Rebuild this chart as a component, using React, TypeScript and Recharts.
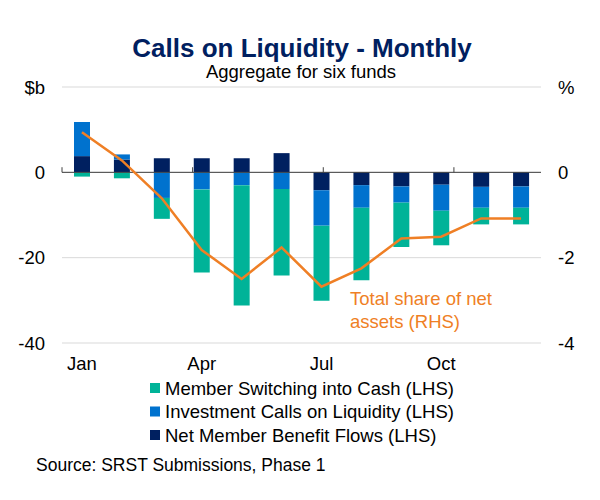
import {
  ComposedChart,
  Bar,
  Line,
  XAxis,
  YAxis,
  CartesianGrid,
  ReferenceLine,
} from 'recharts';

const months = ['Jan', 'Feb', 'Mar', 'Apr', 'May', 'Jun', 'Jul', 'Aug', 'Sep', 'Oct', 'Nov', 'Dec'];
const shownMonths = ['Jan', 'Apr', 'Jul', 'Oct'];

// $b, LHS
const benefitFlows = [3.8, 3.0, 3.3, 3.3, 3.3, 4.5, -4.2, -3.0, -3.3, -2.9, -3.4, -3.3];
const investmentCalls = [8.0, 1.2, -6.0, -4.0, -3.0, -3.9, -8.3, -5.3, -3.8, -6.1, -4.9, -5.0];
const switching = [-1.0, -1.4, -4.9, -19.5, -28.2, -20.3, -17.6, -17.0, -10.4, -8.1, -3.9, -3.9];
// %, RHS
const shareOfAssets = [0.94, 0.28, -0.61, -1.82, -2.5, -1.76, -2.68, -2.25, -1.55, -1.51, -1.08, -1.08];

const leftTicks = [-40, -20, 0, 20];
const rightTicks = [-4, -2, 0, 2];
const quarterMarks = [0, 3, 6, 9, 12];

const TEAL = '#00B398';
const BLUE = '#0072CE';
const NAVY = '#002060';
const ORANGE = '#EF7F25';
const FONT = '"Liberation Sans", Arial, sans-serif';

const legendItems = [
  { name: 'Member Switching into Cash (LHS)', color: TEAL },
  { name: 'Investment Calls on Liquidity (LHS)', color: BLUE },
  { name: 'Net Member Benefit Flows (LHS)', color: NAVY },
];

const data = months.map((m, i) => ({
  month: m,
  benefit: benefitFlows[i],
  invest: investmentCalls[i],
  switching: switching[i],
  share: shareOfAssets[i],
}));

export default function App() {
  const tickStyle = { fontSize: 18.5, fill: '#000', fontFamily: FONT };
  return (
    <div style={{ position: 'relative', width: 600, height: 500, margin: -8, background: '#fff', fontFamily: FONT }}>
      <svg width={600} height={500} style={{ position: 'absolute', left: 0, top: 0 }}>
        <text x={302} y={57} textAnchor="middle" fontSize={26} fontWeight="bold" fill={NAVY} fontFamily={FONT}>
          Calls on Liquidity - Monthly
        </text>
        <text x={301} y={78} textAnchor="middle" fontSize={18.5} fill="#000" fontFamily={FONT}>
          Aggregate for six funds
        </text>
        {legendItems.map((item, i) => (
          <g key={item.name}>
            <rect x={150} y={383 + i * 23.5} width={10} height={10} fill={item.color} />
            <text x={165} y={394.5 + i * 23.5} fontSize={18.5} fill="#000" fontFamily={FONT}>
              {item.name}
            </text>
          </g>
        ))}
        <text x={36} y={471} fontSize={17.5} fill="#000" fontFamily={FONT}>
          Source: SRST Submissions, Phase 1
        </text>
      </svg>
      <div style={{ position: 'absolute', left: 0, top: 0 }}>
        <ComposedChart
          width={600}
          height={500}
          data={data}
          stackOffset="sign"
          margin={{ top: 87, right: 0, bottom: 127, left: 0 }}
        >
          <CartesianGrid vertical={false} stroke="#d9d9d9" yAxisId="left" xAxisId="cat" />
          <XAxis
            xAxisId="cat"
            dataKey="month"
            interval={0}
            height={30}
            axisLine={false}
            tickLine={false}
            tickMargin={8}
            tick={tickStyle}
            tickFormatter={(v) => (shownMonths.includes(v) ? v : '')}
          />
          <XAxis xAxisId="q" type="number" domain={[0, 12]} hide />
          <YAxis
            yAxisId="left"
            width={62}
            domain={[-40, 20]}
            ticks={leftTicks}
            axisLine={false}
            tickLine={false}
            tickMargin={11}
            tick={tickStyle}
            tickFormatter={(v) => (v === 20 ? '$b' : String(v))}
          />
          <YAxis
            yAxisId="right"
            orientation="right"
            width={59}
            domain={[-4, 2]}
            ticks={rightTicks}
            axisLine={false}
            tickLine={false}
            tickMargin={11}
            tick={{ ...tickStyle, textAnchor: 'start' }}
            tickFormatter={(v) => (v === 2 ? '%' : String(v))}
          />
          <Bar dataKey="benefit" stackId="a" xAxisId="cat" yAxisId="left" fill={NAVY} barSize={16} isAnimationActive={false} />
          <Bar dataKey="invest" stackId="a" xAxisId="cat" yAxisId="left" fill={BLUE} barSize={16} isAnimationActive={false} />
          <Bar dataKey="switching" stackId="a" xAxisId="cat" yAxisId="left" fill={TEAL} barSize={16} isAnimationActive={false} />
          <ReferenceLine y={0} yAxisId="left" xAxisId="cat" stroke="#404040" strokeWidth={1} />
          {quarterMarks.map((q) => (
            <ReferenceLine
              key={q}
              xAxisId="q"
              yAxisId="left"
              segment={[{ x: q, y: 0 }, { x: q, y: 1.2 }]}
              stroke="#404040"
              strokeWidth={1}
            />
          ))}
          <Line
            dataKey="share"
            xAxisId="cat"
            yAxisId="right"
            type="linear"
            stroke={ORANGE}
            strokeWidth={2.5}
            dot={false}
            isAnimationActive={false}
          />
        </ComposedChart>
      </div>
      <svg width={600} height={500} style={{ position: 'absolute', left: 0, top: 0, pointerEvents: 'none' }}>
        <text x={350} y={304.5} fontSize={18.5} fill={ORANGE} fontFamily={FONT}>
          Total share of net
        </text>
        <text x={350} y={327.5} fontSize={18.5} fill={ORANGE} fontFamily={FONT}>
          assets (RHS)
        </text>
      </svg>
    </div>
  );
}
